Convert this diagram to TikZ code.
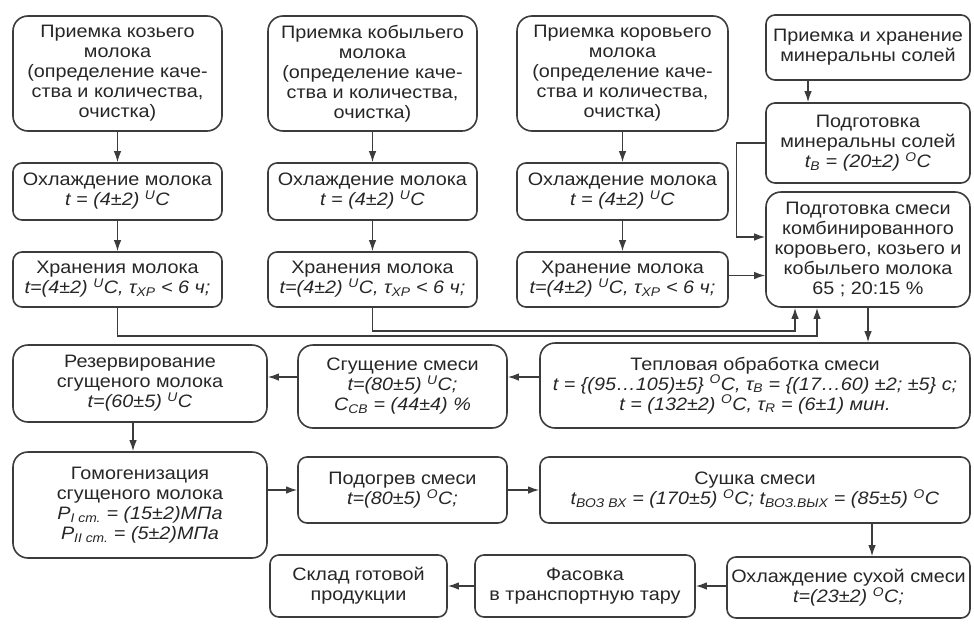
\documentclass[tikz,border=0pt]{standalone}
\usepackage{fontspec}
\setmainfont[FakeStretch=1.1]{Liberation Sans}
\usetikzlibrary{positioning,arrows.meta}
\definecolor{ln}{HTML}{3C3C3C}
\tikzset{%
  box/.style={draw=ln,line width=1.6pt,rounded corners=9pt,align=center,
    inner sep=2pt,text=black!85,font=\fontsize{18}{20}\selectfont},
  tall/.style={rounded corners=15pt},
  arr/.style={draw=ln,line width=1.4pt,-{Latex[length=11pt,width=7.5pt]}}
}
\newcommand{\degU}{\textsuperscript{U}C}
\newcommand{\degO}{\textsuperscript{O}C}

\begin{document}
\begin{tikzpicture}[x=1pt,y=-1pt]
  \useasboundingbox (0,0) rectangle (974,624);

  % milk lines
  \node[box,tall,minimum width=209pt,minimum height=115pt] (recgoat) at (117.5,73.5)
    {Приемка козьего\\ молока\\ (определение каче-\\ ства и количества,\\ очистка)};
  \node[box,tall,minimum width=209pt,minimum height=115pt] (recmare) at (372.5,73.5)
    {Приемка кобыльего\\ молока\\ (определение каче-\\ ства и количества,\\ очистка)};
  \node[box,tall,minimum width=211pt,minimum height=115pt] (reccow) at (622.5,73.5)
    {Приемка коровьего\\ молока\\ (определение каче-\\ ства и количества,\\ очистка)};

  \node[box,minimum width=209pt,minimum height=57pt] (coolgoat) at (117.5,191.5)
    {Охлаждение молока\\ \textit{t = (4±2) \degU}};
  \node[box,minimum width=209pt,minimum height=57pt] (coolmare) at (372.5,191.5)
    {Охлаждение молока\\ \textit{t = (4±2) \degU}};
  \node[box,minimum width=211pt,minimum height=57pt] (coolcow) at (622.5,191.5)
    {Охлаждение молока\\ \textit{t = (4±2) \degU}};

  \node[box,minimum width=209pt,minimum height=55pt] (keepgoat) at (117.5,279.5)
    {Хранения молока\\ \textit{t=(4±2) \degU, τ\textsubscript{ХР} < 6 ч;}};
  \node[box,minimum width=209pt,minimum height=55pt] (keepmare) at (372.5,279.5)
    {Хранения молока\\ \textit{t=(4±2) \degU, τ\textsubscript{ХР} < 6 ч;}};
  \node[box,minimum width=211pt,minimum height=55pt] (keepcow) at (622.5,279.5)
    {Хранение молока\\ \textit{t=(4±2) \degU, τ\textsubscript{ХР} < 6 ч;}};

  % salts and mixing
  \node[box,minimum width=204pt,minimum height=65pt] (salts) at (868,47.5)
    {Приемка и хранение\\ минеральны солей};
  \node[box,minimum width=204pt,minimum height=80pt] (saltprep) at (868,143)
    {Подготовка\\ минеральны солей\\ \textit{t\textsubscript{В} = (20±2) \degO}};
  \node[box,tall,minimum width=204pt,minimum height=115pt] (mix) at (868,249.5)
    {Подготовка смеси\\ комбинированного\\ коровьего, козьего и\\ кобыльего молока\\ 65 ; 20:15 \%};

  % processing
  \node[box,tall,minimum width=430pt,minimum height=85pt] (heat) at (755,385.5)
    {Тепловая обработка смеси\\
     \textit{t = \{(95…105)±5\} \degO, τ\textsubscript{В} = \{(17…60) ±2; ±5\} с;}\\
     \textit{t = (132±2) \degO, τ\textsubscript{R} = (6±1) мин.}};
  \node[box,tall,minimum width=209pt,minimum height=83pt] (thick) at (402.5,386.5)
    {Сгущение смеси\\ \textit{t=(80±5) \degU;}\\ \textit{C\textsubscript{СВ} = (44±4) \%}};
  \node[box,tall,minimum width=254pt,minimum height=77pt] (reserve) at (140,383.5)
    {Резервирование\\ сгущеного молока\\ \textit{t=(60±5) \degU}};
  \node[box,tall,minimum width=254pt,minimum height=106pt] (homog) at (140,505)
    {Гомогенизация\\ сгущеного молока\\
     \textit{P\textsubscript{I ст.} = (15±2)МПа}\\ \textit{P\textsubscript{II ст.} = (5±2)МПа}};
  \node[box,minimum width=209pt,minimum height=66pt] (warm) at (402.5,490)
    {Подогрев смеси\\ \textit{t=(80±5) \degO;}};
  \node[box,minimum width=430pt,minimum height=66pt] (dry) at (755,490)
    {Сушка смеси\\ \textit{t\textsubscript{ВОЗ ВХ} = (170±5) \degO; t\textsubscript{ВОЗ.ВЫХ} = (85±5) \degO}};
  \node[box,minimum width=243pt,minimum height=61pt] (cooldry) at (848.5,587.5)
    {Охлаждение сухой смеси\\ \textit{t=(23±2) \degO;}};
  \node[box,minimum width=220pt,minimum height=62pt] (pack) at (585,586)
    {Фасовка\\ в транспортную тару};
  \node[box,minimum width=177pt,minimum height=62pt] (depot) at (358.5,586)
    {Склад готовой\\ продукции};

  % arrows
  \foreach \m in {goat,mare,cow}{
    \draw[arr] (rec\m) -- (cool\m);
    \draw[arr] (cool\m) -- (keep\m);
  }
  \draw[arr] ([yshift=4pt]keepcow.east) -- ([yshift=4pt]keepcow.east -| mix.west);
  \draw[arr] (keepgoat.south) -- ++(0,28) -| ([xshift=-51pt]mix.south);
  \draw[arr] (keepmare.south) -- ++(0,23) -| ([xshift=-73pt]mix.south);
  \draw[arr] ([xshift=-60pt]salts.south) -- ([xshift=-60pt]saltprep.north);
  \draw[arr] (saltprep.west) -- ++(-29,0) |- ([yshift=12.5pt]mix.west);
  \draw[arr] (mix.south) -- (mix.south |- heat.north);
  \draw[arr] ([yshift=8.5pt]heat.west) -- ([yshift=8.5pt]heat.west -| thick.east);
  \draw[arr] ([yshift=9.5pt]thick.west) -- ([yshift=9.5pt]thick.west -| reserve.east);
  \draw[arr] ([xshift=-7pt]reserve.south) -- ([xshift=-7pt]reserve.south |- homog.north);
  \draw[arr] (warm.west -| homog.east) -- (warm.west);
  \draw[arr] (warm) -- (dry);
  \draw[arr] ([xshift=23.5pt]cooldry.north |- dry.south) -- ([xshift=23.5pt]cooldry.north);
  \draw[arr] (cooldry.west |- pack.east) -- (pack.east);
  \draw[arr] (pack) -- (depot);
\end{tikzpicture}
\end{document}
